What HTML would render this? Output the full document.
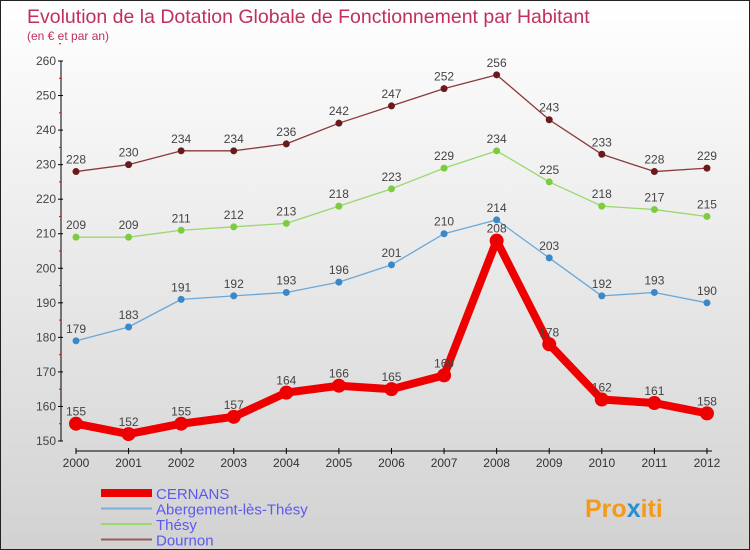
<!DOCTYPE html>
<html><head><meta charset="utf-8"><style>
body{margin:0}
#c{width:750px;height:550px;position:relative;box-sizing:border-box;border:1px solid #222;background:linear-gradient(#fff,#d2d2d2);font-family:"Liberation Sans",sans-serif;overflow:hidden}
svg text{font-family:"Liberation Sans",sans-serif}
</style></head><body>
<div id="c">
<svg width="750" height="550" id="s">
<text x="26" y="22" font-size="19.5" fill="#c0305a">Evolution de la Dotation Globale de Fonctionnement par Habitant</text>
<text x="26" y="39" font-size="12" fill="#c0305a">(en € et par an)</text>
<text x="584" y="516" font-size="25" font-weight="bold" fill="#f39a1a">Pro<tspan fill="#2a8fd0">x</tspan>iti</text>
</svg>
<script>
const years=[2000,2001,2002,2003,2004,2005,2006,2007,2008,2009,2010,2011,2012];
const cernans=[155,152,155,157,164,166,165,169,208,178,162,161,158];
const abergement=[179,183,191,192,193,196,201,210,214,203,192,193,190];
const thesy=[209,209,211,212,213,218,223,229,234,225,218,217,215];
const dournon=[228,230,234,234,236,242,247,252,256,243,233,228,229];
const yTicks=[150,160,170,180,190,200,210,220,230,240,250,260];
const s=document.getElementById('s');const NS='http://www.w3.org/2000/svg';
function el(t,a,p){const e=document.createElementNS(NS,t);for(const k in a)e.setAttribute(k,a[k]);(p||s).appendChild(e);return e;}
const X=i=>75+i*52.58, Y=v=>440-(v-150)*3.4545;
const ax=el('g',{});


el('line',{x1:60,y1:Y(260),x2:60,y2:Y(150),stroke:'#000'},ax);
el('line',{x1:X(0),y1:450,x2:X(12)+5,y2:450,stroke:'#000'},ax);
yTicks.forEach(v=>{el('line',{x1:57,y1:Y(v),x2:62,y2:Y(v),stroke:'#000'},ax);
el('line',{x1:58,y1:Y(v+5),x2:60,y2:Y(v+5),stroke:'#e00'},ax);
const t=el('text',{x:55,y:Y(v)+4,'font-size':12,'text-anchor':'end',fill:'#444'},ax);t.textContent=v;

});
years.forEach((y,i)=>{el('line',{x1:X(i),y1:447,x2:X(i),y2:453,stroke:'#000'},ax);
const t=el('text',{x:X(i),y:466,'font-size':12,'text-anchor':'middle',fill:'#333'},ax);t.textContent=y;

});
function series(d,col,dot,w,r,name){const g=el('g',{});


el('polyline',{points:d.map((v,i)=>X(i)+','+Y(v)).join(' '),fill:'none',stroke:col,'stroke-width':w,'stroke-linejoin':'round'},g);
d.forEach((v,i)=>{const c=el('circle',{cx:X(i),cy:Y(v),r:r,fill:dot},g);


const t=el('text',{x:X(i),y:Y(v)-8,'font-size':12,'text-anchor':'middle',fill:'#444'},g);t.textContent=v;

});}
series(dournon,'#8b3a3a','#6a1a1a',1.3,3.5,'series-dournon');
series(thesy,'#9ad86a','#7ccc40',1.3,3.5,'series-thesy');
series(abergement,'#6aa8d8','#3a88c8',1.3,3.5,'series-abergement');
series(cernans,'#ee0000','#ee0000',8,7,'series-cernans');
const lg=[['CERNANS','#ee0000',8],['Abergement-lès-Thésy','#7fb0d8',2],['Thésy','#9ad86a',2],['Dournon','#9a5a5a',2]];
lg.forEach((l,i)=>{const y=492+i*15.5;const g=el('g',{});


el('line',{x1:100,y1:y,x2:151,y2:y,stroke:l[1],'stroke-width':l[2]},g);
const t=el('text',{x:155,y:y+6,'font-size':15,fill:'#5a5aee'},g);t.textContent=l[0];});
</script>
</div></body></html>
